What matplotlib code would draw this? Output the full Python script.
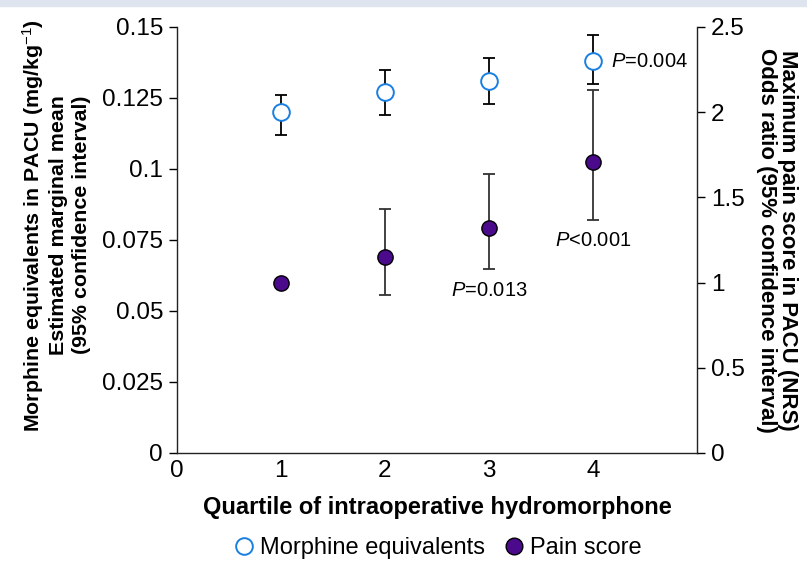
import numpy as np
import matplotlib
matplotlib.use("Agg")
import matplotlib.pyplot as plt
from matplotlib.lines import Line2D

plt.rcParams["font.family"] = ["Liberation Sans", "DejaVu Sans"]
plt.rcParams["mathtext.fontset"] = "custom"
plt.rcParams["mathtext.rm"] = "Liberation Sans"
plt.rcParams["mathtext.it"] = "Liberation Sans:italic"
plt.rcParams["mathtext.bf"] = "Liberation Sans:bold"

# data
quartiles = [1, 2, 3, 4]
morphine_mean = [0.120, 0.127, 0.131, 0.138]
morphine_low = [0.112, 0.119, 0.123, 0.130]
morphine_high = [0.126, 0.135, 0.139, 0.147]
pain_or = [1.00, 1.15, 1.32, 1.71]
pain_low = [np.nan, 0.93, 1.08, 1.37]
pain_high = [np.nan, 1.43, 1.64, 2.13]
p_labels = {4: "$P$=0.004"}
pain_p_labels = {3: "$P$=0.013", 4: "$P$<0.001"}

blue = "#1a7fe0"
purple = "#4b0a8c"

fig = plt.figure(figsize=(8.07, 5.62), dpi=100)
# light band at the very top, as in the source page
fig.patches.append(plt.Rectangle((0, 0.99), 1, 0.01, transform=fig.transFigure,
                                 color="#dfe5ef", zorder=0))
ax = fig.add_axes([0.2193, 0.194, 0.6444, 0.758])
ax2 = ax.twinx()

m = np.array(morphine_mean)
ax.errorbar(quartiles, m, yerr=[m - np.array(morphine_low), np.array(morphine_high) - m],
            fmt="none", ecolor="black", elinewidth=1.3, capsize=4, capthick=1.3, zorder=2)
ax.plot(quartiles, m, "o", ms=12, mfc="white", mec=blue, mew=1.4, zorder=3, ls="none")

p = np.array(pain_or)
ax2.errorbar(quartiles, p, yerr=[p - np.array(pain_low), np.array(pain_high) - p],
             fmt="none", ecolor="#333333", elinewidth=1.3, capsize=4, capthick=1.3, zorder=2)
ax2.plot(quartiles, p, "o", ms=11, mfc=purple, mec="black", mew=1, zorder=3, ls="none")

for q, txt in p_labels.items():
    ax.text(q + 0.17, morphine_mean[q - 1], txt, fontsize=14.5, va="center", ha="left")
for q, txt in pain_p_labels.items():
    ax2.text(q, pain_low[q - 1] - 0.07, txt, fontsize=14.5, va="top", ha="center")

ax.set_xlim(0, 5)
ax.set_ylim(0, 0.15)
ax2.set_ylim(0, 2.5)
ax.set_xticks([0, 1, 2, 3, 4])
ax.set_yticks([0, 0.025, 0.05, 0.075, 0.1, 0.125, 0.15])
ax.set_yticklabels(["0", "0.025", "0.05", "0.075", "0.1", "0.125", "0.15"])
ax2.set_yticks([0, 0.5, 1, 1.5, 2, 2.5])
ax2.set_yticklabels(["0", "0.5", "1", "1.5", "2", "2.5"])

ax.tick_params(axis="x", length=0, labelsize=17.5, pad=5)
ax.tick_params(axis="y", length=6, width=1, labelsize=17.5, pad=4)
ax2.tick_params(axis="y", length=6, width=1, labelsize=17.5, pad=4)

for a in (ax, ax2):
    a.spines["top"].set_visible(False)
    for s in a.spines.values():
        s.set_linewidth(1)
        s.set_color("#222222")
ax.spines["right"].set_visible(False)
ax2.spines["left"].set_visible(False)
ax2.spines["bottom"].set_visible(False)

ax.set_ylabel("Morphine equivalents in PACU (mg/kg$^{-1}$)\nEstimated marginal mean\n(95% confidence interval)",
              fontsize=15.4, fontweight="bold", linespacing=1.25)
ax.yaxis.set_label_coords(-0.165, 0.535)
ax2.set_ylabel("Maximum pain score in PACU (NRS)\nOdds ratio (95% confidence interval)",
               fontsize=16, fontweight="bold", rotation=-90, labelpad=38, linespacing=1.0)
ax.set_xlabel("Quartile of intraoperative hydromorphone", fontsize=17, fontweight="bold", labelpad=10)

handles = [
    Line2D([], [], ls="none", marker="o", ms=12, mfc="white", mec=blue, mew=1.4),
    Line2D([], [], ls="none", marker="o", ms=12, mfc=purple, mec="black", mew=1),
]
fig.legend(handles, ["Morphine equivalents", "Pain score"], loc="center",
           bbox_to_anchor=(0.54, 0.025), ncol=2, frameon=False, fontsize=17,
           handletextpad=0.1, columnspacing=0.6, handlelength=1.2)

fig.savefig("out.png", dpi=100)
